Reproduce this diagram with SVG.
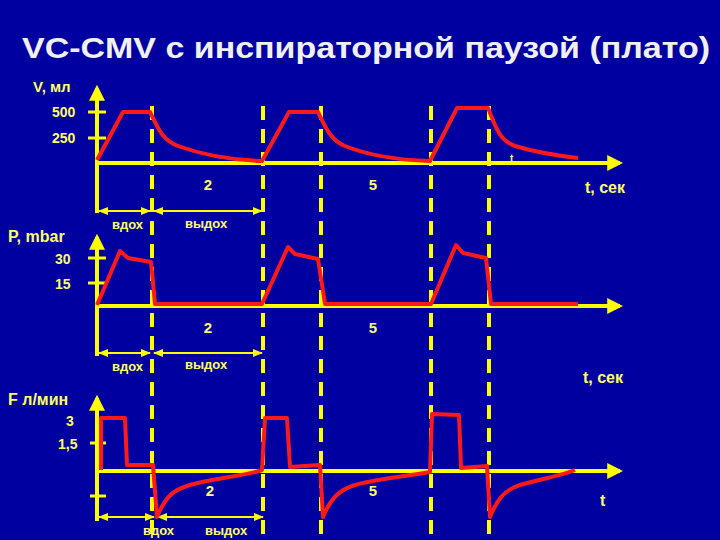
<svg xmlns="http://www.w3.org/2000/svg" width="720" height="540" viewBox="0 0 720 540">
<defs>
<marker id="ah" viewBox="0 0 10 10" refX="8" refY="5" markerWidth="4" markerHeight="4" orient="auto"><path d="M0,0L10,5L0,10z" fill="#ffff00"/></marker>
<marker id="sa" viewBox="0 0 10 10" refX="9" refY="5" markerWidth="5" markerHeight="5" orient="auto-start-reverse"><path d="M0,1L10,5L0,9z" fill="#ffff00"/></marker>
</defs>
<style>
text{font-family:"Liberation Sans",Arial,sans-serif;font-weight:bold;fill:#ffff66;font-size:15px}
.ax{stroke:#ffff00;stroke-width:4;fill:none}
.tk{stroke:#ffff00;stroke-width:3}
.dim{stroke:#ffff00;stroke-width:2}
.dash{stroke:#ffff00;stroke-width:4;stroke-dasharray:14,9;fill:none}
.cv{stroke:#ff1a1a;stroke-width:4;fill:none;stroke-linejoin:round}
</style>
<rect width="720" height="540" fill="#0000a0"/>
<text x="366" y="58" text-anchor="middle" textLength="688" lengthAdjust="spacingAndGlyphs" style="font-size:30px;fill:#f0f0f0">VC-CMV с инспираторной паузой (плато)</text>
<g id="dashes">
<line class="dash" x1="152" y1="106" x2="152" y2="535"/>
<line class="dash" x1="263" y1="106" x2="263" y2="535"/>
<line class="dash" x1="321" y1="106" x2="321" y2="535"/>
<line class="dash" x1="431" y1="106" x2="431" y2="535"/>
<line class="dash" x1="489" y1="106" x2="489" y2="535"/>
</g>
<g id="v-chart">
<line class="ax" x1="97" y1="213" x2="97" y2="88" marker-end="url(#ah)"/>
<line class="ax" x1="97" y1="163" x2="620" y2="163" marker-end="url(#ah)"/>
<line class="tk" x1="88" y1="112" x2="106" y2="112"/><line class="tk" x1="88" y1="138" x2="106" y2="138"/>
<line class="dim" x1="99" y1="211" x2="150" y2="211" marker-start="url(#sa)" marker-end="url(#sa)"/>
<line class="dim" x1="154" y1="211" x2="262" y2="211" marker-start="url(#sa)" marker-end="url(#sa)"/>
<path class="cv" d="M97,160L123,112L150,112C158,128 162,140 178,146C200,154 230,160 262,161L289,112L318,112C325,126 330,140 345,146C365,154 395,160 430,161L457,108L488,108C495,124 498,140 515,146C535,152 560,156 578,158"/>
<text x="33" y="92">V, мл</text><text x="52" y="117" style="font-size:14px">500</text><text x="52" y="143" style="font-size:14px">250</text>
<text x="208" y="190" text-anchor="middle">2</text><text x="373" y="190" text-anchor="middle">5</text>
<text x="510" y="162" style="font-size:10px">t</text>
<text x="585" y="193" style="font-size:16px">t, сек</text>
<text x="112" y="229" style="font-size:13px">вдох</text><text x="185" y="228" style="font-size:13px">выдох</text>
</g>
<g id="p-chart">
<line class="ax" x1="97" y1="356" x2="97" y2="237" marker-end="url(#ah)"/>
<line class="ax" x1="97" y1="306" x2="620" y2="306" marker-end="url(#ah)"/>
<line class="tk" x1="88" y1="258" x2="106" y2="258"/><line class="tk" x1="88" y1="283" x2="106" y2="283"/>
<line class="dim" x1="99" y1="353" x2="150" y2="353" marker-start="url(#sa)" marker-end="url(#sa)"/>
<line class="dim" x1="154" y1="353" x2="262" y2="353" marker-start="url(#sa)" marker-end="url(#sa)"/>
<path class="cv" d="M97,305L120,251L128,258L151,262L155,304L262,304L288,247L295,254L318,259L325,304L431,304L456,245L463,253L486,258L491,304L578,304"/>
<text x="8" y="242" style="font-size:16px">P, mbar</text><text x="55" y="264" style="font-size:14px">30</text><text x="55" y="289" style="font-size:14px">15</text>
<text x="208" y="333" text-anchor="middle">2</text><text x="373" y="333" text-anchor="middle">5</text>
<text x="112" y="371" style="font-size:13px">вдох</text><text x="185" y="369" style="font-size:13px">выдох</text>
<text x="583" y="383" style="font-size:16px">t, сек</text>
</g>
<g id="f-chart">
<line class="ax" x1="97" y1="521" x2="97" y2="398" marker-end="url(#ah)"/>
<line class="ax" x1="97" y1="471" x2="620" y2="471" marker-end="url(#ah)"/>
<line class="tk" x1="90" y1="443" x2="106" y2="443"/><line class="tk" x1="90" y1="496" x2="106" y2="496"/>
<line class="dim" x1="99" y1="517" x2="154" y2="517" marker-start="url(#sa)" marker-end="url(#sa)"/>
<line class="dim" x1="158" y1="517" x2="263" y2="517" marker-start="url(#sa)" marker-end="url(#sa)"/>
<path class="cv" d="M101,470L101,418L125,418L127,465L153,465L157,517C165,498 172,490 190,485C215,478 245,476 262,470L265,418L287,418L290,467L320,465L323,517C330,500 338,490 355,485C380,478 410,476 430,472L432,414L459,415L461,468L487,466L490,517C497,500 504,490 520,485C545,478 560,476 575,470"/>
<text x="8" y="405" style="font-size:16px">F л/мин</text><text x="66" y="426" style="font-size:14px">3</text><text x="58" y="449" style="font-size:14px">1,5</text>
<text x="210" y="496" text-anchor="middle">2</text><text x="373" y="496" text-anchor="middle">5</text>
<text x="600" y="506" style="font-size:16px">t</text>
<text x="143" y="535" style="font-size:13px">вдох</text><text x="205" y="535" style="font-size:13px">выдох</text>
</g>
</svg>
